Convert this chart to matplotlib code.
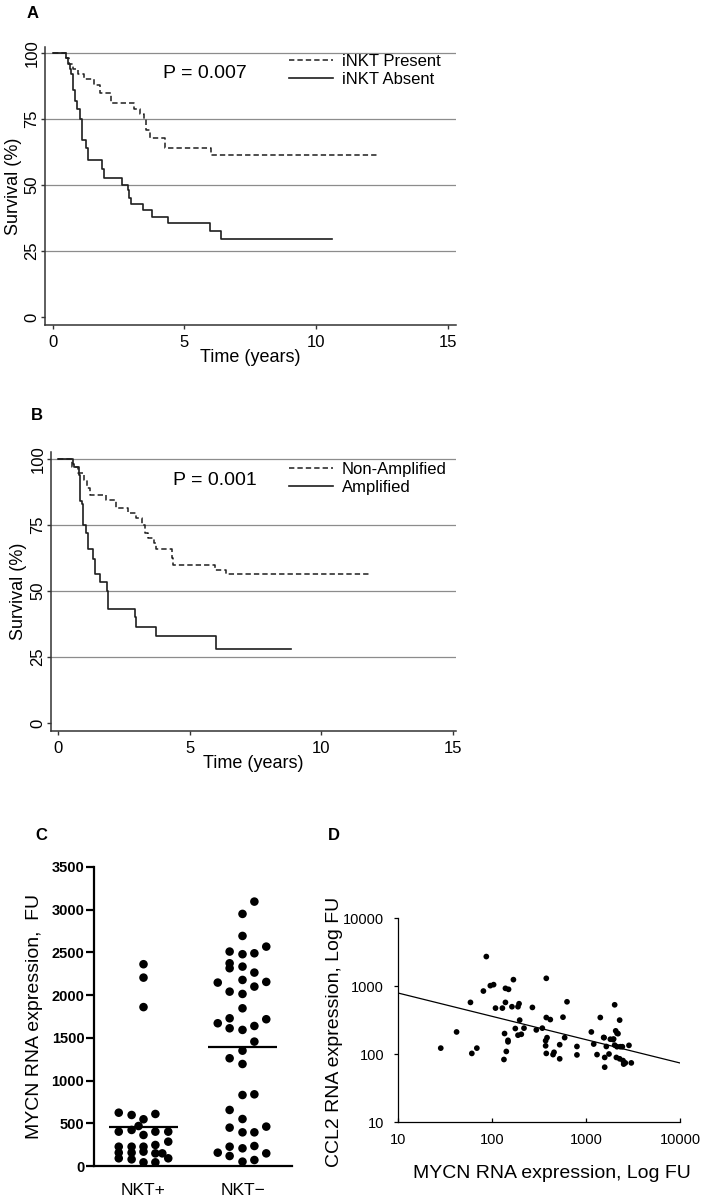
"""Survival curves and MYCN / CCL2 expression panels (A-D)."""

import matplotlib as mpl
from matplotlib import pyplot as plt
import numpy as np

mpl.use("Agg")
plt.rcParams["font.family"] = ["Liberation Sans", "DejaVu Sans"]

W, H = 710, 1199

# Panel A: Kaplan-Meier steps (time in years, survival %)
a_present_t = [0, 0.5, 0.6, 0.75, 0.95, 1.2, 1.55, 1.8, 2.2, 3.1, 3.3, 3.45, 3.55, 3.7, 4.25, 6.0, 12.3]
a_present_s = [100, 98, 96, 94, 92, 90, 88, 85, 81, 79, 77, 75, 71, 68, 64, 61.3, 61.3]
a_absent_t = [0, 0.5, 0.57, 0.64, 0.7, 0.77, 0.85, 0.92, 1.02, 1.12, 1.27, 1.34, 1.88, 1.93,
              2.61, 2.86, 2.9, 2.95, 3.41, 3.75, 4.39, 5.98, 6.39, 10.62]
a_absent_s = [100, 98, 96, 94, 92, 86, 82, 79, 75, 67, 64, 59.5, 56, 52.5,
              50, 48, 45, 43, 40.5, 38, 35.5, 32.5, 29.5, 29.5]

# Panel B
b_nonamp_t = [0, 0.51, 0.76, 1.0, 1.1, 1.2, 1.84, 2.2, 2.65, 2.95, 3.2, 3.32, 3.42, 3.65, 3.73,
              4.33, 4.37, 5.97, 6.39, 11.9]
b_nonamp_s = [100, 97, 94.5, 92, 89, 86.5, 84.5, 81.5, 79.5, 77.5, 75, 72, 70, 68, 66,
              62.5, 60, 58, 56.5, 56.5]
b_amp_t = [0, 0.55, 0.6, 0.78, 0.82, 0.9, 0.95, 1.05, 1.12, 1.33, 1.39, 1.61, 1.86, 1.88, 1.9,
           2.91, 2.97, 3.73, 5.99, 8.86]
b_amp_s = [100, 98, 97, 94, 84, 83, 75, 72, 66, 62, 56.5, 53.5, 50, 48, 43,
           40, 36.5, 33, 28, 28]

surv_ticks = [0, 25, 50, 75, 100]
grid_levels = [25, 50, 75, 100]
time_ticks = [0, 5, 10, 15]

# Panel C: MYCN expression (FU) per group, with horizontal offsets
c_groups = ["NKT+", "NKT\u2212"]
nkt_pos_vals = [2362, 2205, 1860, 624, 597, 547, 609, 468, 402, 422, 363, 402, 402, 285,
                226, 226, 226, 246, 156, 156, 168, 148, 148, 90, 78, 43, 43, 90]
nkt_pos_off = [0, 0, 0, -0.25, -0.12, 0, 0.12, -0.05, -0.25, -0.12, 0, 0.12, 0.25, 0.25,
               -0.25, -0.12, 0, 0.12, -0.25, -0.12, 0, 0.12, 0.19, -0.25, -0.12, 0, 0.12, 0.25]
nkt_neg_vals = [3095, 2951, 2693, 2568, 2510, 2479, 2490, 2373, 2315, 2334, 2264, 2147, 2178,
                2155, 2100, 2041, 2014, 1846, 1729, 1671, 1718, 1612, 1593, 1639, 1456, 1350,
                1261, 1194, 831, 839, 656, 550, 449, 394, 394, 461, 226, 207, 234, 156, 117,
                51, 70, 148]
nkt_neg_off = [0.12, 0, 0, 0.24, -0.13, 0, 0.12, -0.13, -0.13, 0, 0.12, -0.25, 0, 0.24, 0.12,
               -0.13, 0, 0, -0.13, -0.25, 0.24, -0.13, 0, 0.12, 0.12, 0, -0.13, 0, 0, 0.12,
               -0.13, 0, -0.13, 0, 0.12, 0.24, -0.13, 0, 0.12, -0.25, -0.13, 0, 0.12, 0.24]
c_means = [453, 1390]
c_ticks = [0, 500, 1000, 1500, 2000, 2500, 3000, 3500]

# Panel D: MYCN vs CCL2 (FU, log scale)
d_mycn = [87, 169, 378, 81, 96, 104, 139, 150, 59, 109, 129, 139, 163, 189, 194, 269, 628,
          378, 417, 569, 197, 2018, 2280, 1419, 42, 136, 177, 205, 189, 219, 296, 343, 1140,
          2070, 2140, 1557, 1816, 1938, 593, 385, 148, 28.5, 61, 69, 134, 142, 148, 372, 372,
          378, 457, 446, 525, 525, 801, 801, 1208, 1310, 1541, 1581, 1581, 1645, 1757, 1968,
          2018, 2138, 2318, 2104, 2280, 2437, 2477, 2620, 3033, 2865, 2517, 2190]
d_ccl2 = [2710, 1240, 1297, 843, 1012, 1047, 924, 893, 574, 473, 473, 574, 496, 496, 549, 484,
          586, 344, 321, 348, 315, 529, 315, 344, 211, 200, 237, 195, 189, 240, 226, 240, 211,
          219, 202, 174, 165, 163, 174, 174, 159, 122, 102, 122, 83, 109, 151, 157, 132, 102,
          106, 98, 85, 137, 129, 97, 140, 98, 175, 89, 64, 129, 100, 166, 135, 128, 128, 89,
          85, 128, 80, 74, 74, 134, 71, 199]
d_fit_intercept = 3.24   # log10(CCL2) = intercept + slope * log10(MYCN)
d_fit_slope = -0.343
d_ticks = [10, 100, 1000, 10000]

CURVE = "#1e1e1e"
GRID = "#8c8c8c"


def px_axes(fig, left, top, right, bottom):
    return fig.add_axes([left / W, 1 - bottom / H, (right - left) / W, (bottom - top) / H])


def km_axes(ax, xlim, ylim):
    ax.set_xlim(*xlim)
    ax.set_ylim(*ylim)
    for side in ("top", "right"):
        ax.spines[side].set_visible(False)
    for side in ("left", "bottom"):
        ax.spines[side].set_color("#333333")
        ax.spines[side].set_linewidth(1.1)
    ax.hlines(grid_levels, xlim[0], xlim[1], color=GRID, lw=0.9, zorder=0)
    ax.set_xticks(time_ticks)
    ax.set_yticks(surv_ticks)
    ax.tick_params(axis="x", length=3, width=1, pad=4, labelsize=12, color="#333333")
    ax.tick_params(axis="y", length=3, width=1, pad=1, labelsize=12, color="#333333")
    for lab in ax.get_yticklabels():
        lab.set_rotation(90)
        lab.set_va("center")
    ax.set_xlabel("Time (years)", fontsize=13)
    ax.set_ylabel("Survival (%)", fontsize=13)


fig = plt.figure(figsize=(W / 100, H / 100), dpi=100)

# ---- Panel A
ax = px_axes(fig, 45, 47, 456, 325)
km_axes(ax, (-0.30, 15.32), (-3.0, 102.3))
ax.step(a_present_t, a_present_s, where="post", color=CURVE, lw=1.1,
        linestyle=(0, (3.5, 2)), label="iNKT Present")
ax.step(a_absent_t, a_absent_s, where="post", color=CURVE, lw=1.2, label="iNKT Absent")
ax.text(4.18, 92.4, "P = 0.007", fontsize=14, va="center", ha="left")
ax.legend(loc="upper left", bbox_to_anchor=(0.594, 0.975), frameon=False, fontsize=12,
          handlelength=2.65, handletextpad=0.5, labelspacing=0.2, borderpad=0, borderaxespad=0)
ax.xaxis.set_label_coords(0.5, (325 - 349) / 278)
ax.yaxis.set_label_coords((22 - 45) / 411, 0.5)

# ---- Panel B
ax = px_axes(fig, 51, 452, 456, 731)
km_axes(ax, (-0.27, 15.13), (-3.0, 102.6))
ax.step(b_nonamp_t, b_nonamp_s, where="post", color=CURVE, lw=1.1,
        linestyle=(0, (3.5, 2)), label="Non-Amplified")
ax.step(b_amp_t, b_amp_s, where="post", color=CURVE, lw=1.2, label="Amplified")
ax.text(4.37, 92.0, "P = 0.001", fontsize=14, va="center", ha="left")
ax.legend(loc="upper left", bbox_to_anchor=((289 - 51) / 405, 0.965), frameon=False, fontsize=12,
          handlelength=2.65, handletextpad=0.5, labelspacing=0.2, borderpad=0, borderaxespad=0)
ax.xaxis.set_label_coords(0.5, (731 - 755) / 279)
ax.yaxis.set_label_coords((27 - 51) / 405, 0.5)

# ---- Panel C
ax = px_axes(fig, 94, 867, 292, 1166)
ax.set_xlim(0.5, 2.5)
ax.set_ylim(0, 3500)
for pos, vals, offs in ((1, nkt_pos_vals, nkt_pos_off), (2, nkt_neg_vals, nkt_neg_off)):
    ax.scatter(pos + np.array(offs), vals, s=38, color="black", edgecolors="none",
               zorder=3, clip_on=False)
for pos, m in zip((1, 2), c_means):
    ax.hlines(m, pos - 0.35, pos + 0.35, color="black", lw=1.6, zorder=4)
for side in ("top", "right"):
    ax.spines[side].set_visible(False)
for side in ("left", "bottom"):
    ax.spines[side].set_linewidth(1.6)
ax.set_xticks([1, 2])
ax.set_xticklabels(c_groups, fontsize=12.5)
ax.set_yticks(c_ticks)
ax.tick_params(axis="x", length=0, pad=12)
ax.tick_params(axis="y", length=6, width=1.6, pad=1)
for lab in ax.get_yticklabels():
    lab.set_fontweight("bold")
    lab.set_fontsize(10.5)
ax.set_ylabel("MYCN RNA expression,  FU", fontsize=14)
ax.yaxis.set_label_coords((43 - 94) / 198, 0.5)

# ---- Panel D
ax = px_axes(fig, 398, 918, 680, 1122)
ax.set_xscale("log")
ax.set_yscale("log")
ax.set_xlim(10, 10000)
ax.set_ylim(10, 10000)
ax.scatter(d_mycn, d_ccl2, s=17, color="black", edgecolors="none", zorder=3)
fit_x = np.array([10, 10000])
ax.plot(fit_x, 10 ** (d_fit_intercept + d_fit_slope * np.log10(fit_x)), color="black", lw=0.9)
for side in ("top", "right"):
    ax.spines[side].set_visible(False)
for side in ("left", "bottom"):
    ax.spines[side].set_linewidth(0.9)
ax.set_xticks(d_ticks)
ax.set_yticks(d_ticks)
ax.set_xticklabels([str(t) for t in d_ticks])
ax.set_yticklabels([str(t) for t in d_ticks])
ax.minorticks_off()
ax.tick_params(axis="x", direction="in", length=3, width=0.9, pad=8, labelsize=10.5)
ax.tick_params(axis="y", direction="out", length=3, width=0.9, pad=7, labelsize=10.5)
ax.set_xlabel("MYCN RNA expression, Log FU", fontsize=14)
ax.set_ylabel("CCL2 RNA expression, Log FU", fontsize=14)
ax.xaxis.set_label_coords((552 - 398) / 282, (1122 - 1165) / 204)
ax.yaxis.set_label_coords((343 - 398) / 282, (1122 - 1032) / 204)

# Panel letters
for letter, x, y in (("A", 33, 13), ("B", 37, 415), ("C", 41, 836), ("D", 334, 836)):
    fig.text(x / W, 1 - y / H, letter, fontsize=12, fontweight="bold", ha="center", va="center")

fig.savefig("out.png", dpi=100)
plt.close(fig)
